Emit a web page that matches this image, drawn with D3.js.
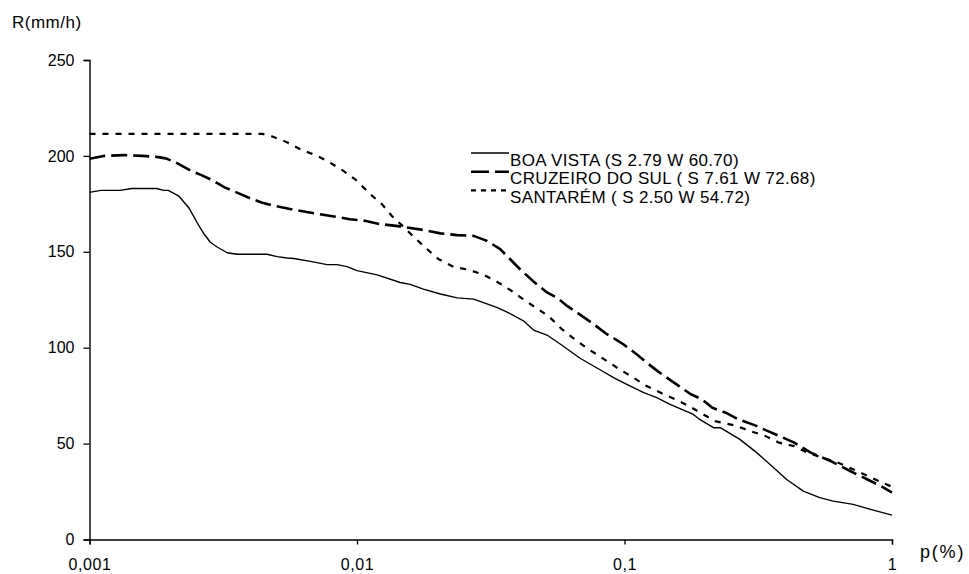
<!DOCTYPE html>
<html>
<head>
<meta charset="utf-8">
<script src="https://cdn.jsdelivr.net/npm/d3@7.9.0/dist/d3.min.js"></script>
<style>
  body { margin: 0; background: #fff; }
  svg text { font-family: Arial, "Liberation Sans", sans-serif; fill: #000; }
</style>
</head>
<body>
<svg id="chart" width="969" height="574"></svg>
<script>
// axis ticks
const xTicks = [0.001, 0.01, 0.1, 1];
const yTicks = [0, 50, 100, 150, 200, 250];

// legend names
const seriesNames = [
  'BOA VISTA (S 2.79 W 60.70)',
  'CRUZEIRO DO SUL ( S 7.61 W 72.68)',
  'SANTARÉM ( S 2.50 W 54.72)'
];

// Boa Vista - p(%) and R(mm/h)
const pBoa = [0.001, 0.0011, 0.0013, 0.00144, 0.00178, 0.0019, 0.00197, 0.00216, 0.00235, 0.00253,
  0.00269, 0.00283, 0.003, 0.00327, 0.00356, 0.00461, 0.00503, 0.00548, 0.0058, 0.0067,
  0.00773, 0.00842, 0.00918, 0.01, 0.0119, 0.0145, 0.0158, 0.0177, 0.0205, 0.0237,
  0.0273, 0.0297, 0.0333, 0.0364, 0.0419, 0.0457, 0.0513, 0.0582, 0.0682, 0.081,
  0.091, 0.102, 0.118, 0.132, 0.148, 0.181, 0.191, 0.215, 0.228, 0.27,
  0.312, 0.35, 0.404, 0.466, 0.537, 0.603, 0.716, 0.851, 1];
const rBoa = [181, 182, 182, 183, 183, 182, 182, 179, 173, 165,
  159, 155, 152.5, 149.5, 148.7, 148.7, 147.5, 146.8, 146.5, 145,
  143.3, 143.3, 142.3, 140.2, 138, 134, 133, 130.5, 128, 126,
  125.3, 123.5, 121, 118.6, 114, 109.2, 106.6, 101.4, 94.5, 88.5,
  84.4, 80.9, 76.6, 74, 70.5, 65.2, 62.6, 58.3, 58.3, 52.2,
  45.3, 39.1, 31.3, 25.2, 21.8, 20, 18.3, 15.3, 12.7];

// Cruzeiro do Sul
const pCruz = [0.001, 0.00113, 0.00134, 0.00158, 0.00178, 0.00193, 0.0021, 0.0024, 0.00262, 0.00286,
  0.0032, 0.0036, 0.004, 0.0044, 0.0049, 0.0058, 0.0069, 0.0082, 0.0094, 0.0108,
  0.0121, 0.014, 0.0177, 0.0205, 0.0237, 0.0273, 0.0306, 0.0343, 0.0407, 0.0457,
  0.0513, 0.056, 0.061, 0.068, 0.0763, 0.085, 0.099, 0.111, 0.121, 0.133,
  0.147, 0.16, 0.177, 0.195, 0.213, 0.239, 0.267, 0.308, 0.344, 0.38,
  0.431, 0.497, 0.59, 0.7, 0.81, 0.91, 1];
const rCruz = [198.5, 200, 200.4, 200, 199.5, 198.7, 196.6, 192.2, 190, 187.5,
  183.6, 180.6, 177.8, 175.7, 174, 171.9, 170.1, 168.4, 167, 166.1,
  164.5, 163.5, 161.4, 159.6, 158.7, 158.3, 155.7, 151.4, 140.9, 134.5,
  128.8, 126.1, 121.8, 117.4, 112.5, 107.5, 101.8, 96.6, 92.2, 87.8,
  83.5, 80, 75.7, 73.1, 68.7, 66.1, 62.6, 59.5, 56.5, 53.9,
  50.5, 45.3, 40.9, 35.6, 31.3, 27.8, 24.5];

// Santarem
const pSant = [0.001, 0.00443, 0.0048, 0.0055, 0.0062, 0.0071, 0.0079, 0.0089, 0.01, 0.0112,
  0.0124, 0.0135, 0.0148, 0.0163, 0.018, 0.0202, 0.023, 0.0262, 0.0294, 0.033,
  0.037, 0.0415, 0.0465, 0.052, 0.058, 0.064, 0.072, 0.08, 0.088, 0.0964,
  0.1079, 0.121, 0.136, 0.155, 0.174, 0.192, 0.218, 0.258, 0.296, 0.337,
  0.378, 0.43, 0.49, 0.565, 0.63, 0.727, 0.84, 0.92, 1];
const rSant = [211.5, 211.5, 210.2, 207, 203.2, 200, 196.6, 192.2, 187, 180.1,
  174.8, 168.7, 163.5, 157.8, 152.2, 146.1, 142.1, 140.6, 138.3, 134.8,
  130.5, 125.6, 120.9, 116.5, 110, 105.2, 99.9, 95.9, 92.1, 88.5,
  84.4, 80, 76.6, 73.1, 69.6, 66.1, 61.7, 59.5, 56.5, 53.9,
  50.5, 48.7, 44.9, 42.1, 40, 36.2, 32.2, 29.6, 27.5];

const series = [
  { name: seriesNames[0], p: pBoa, r: rBoa, width: 1.4, dash: null, legendDash: null },
  { name: seriesNames[1], p: pCruz, r: rCruz, width: 2.6, dash: '16,6', legendDash: '18,6' },
  { name: seriesNames[2], p: pSant, r: rSant, width: 2.2, dash: '6,7', legendDash: '5,5' }
];

const svg = d3.select('#chart');

const x = d3.scaleLog().domain([0.001, 1]).range([89.5, 892]);
const y = d3.scaleLinear().domain([0, 250]).range([539.5, 60]);

// y axis
const yAxis = svg.append('g')
  .attr('transform', 'translate(89.5,0)')
  .call(d3.axisLeft(y).tickValues(yTicks).tickSize(6).tickPadding(9).tickFormat(d3.format('d')));

// x axis - decimal comma labels
const fmtComma = (d) => String(d).replace('.', ',');
const xAxis = svg.append('g')
  .attr('transform', 'translate(0,539.5)')
  .call(d3.axisBottom(x).tickValues(xTicks).tickSize(5).tickPadding(14).tickFormat(fmtComma));

[yAxis, xAxis].forEach((g) => {
  g.select('.domain').attr('stroke', '#000').attr('stroke-width', 1.4);
  g.selectAll('.tick line').attr('stroke', '#000').attr('stroke-width', 1.3);
  g.selectAll('.tick text')
    .attr('font-size', 16)
    .attr('font-family', 'Arial, "Liberation Sans", sans-serif');
});
xAxis.selectAll('.tick text').attr('letter-spacing', 0.6);

// axis titles
svg.append('text').attr('x', 12).attr('y', 28).attr('font-size', 17)
  .attr('letter-spacing', 0.5).text('R(mm/h)');
svg.append('text').attr('x', 920).attr('y', 558).attr('font-size', 18)
  .attr('letter-spacing', 1.8).text('p(%)');

// lines
const line = d3.line()
  .x((d) => x(d[0]))
  .y((d) => y(d[1]));

series.forEach((s) => {
  const pts = s.p.map((p, i) => [p, s.r[i]]);
  svg.append('path')
    .datum(pts)
    .attr('d', line)
    .attr('fill', 'none')
    .attr('stroke', '#000')
    .attr('stroke-width', s.width)
    .attr('stroke-dasharray', s.dash)
    .attr('stroke-linejoin', 'round');
});

// legend
const legend = svg.append('g').attr('transform', 'translate(471,153)');
series.forEach((s, i) => {
  const row = legend.append('g').attr('transform', `translate(0,${i * 18.7})`);
  row.append('line')
    .attr('x1', 0).attr('x2', 38)
    .attr('y1', 0).attr('y2', 0)
    .attr('stroke', '#000')
    .attr('stroke-width', s.width)
    .attr('stroke-dasharray', s.legendDash);
  row.append('text')
    .attr('x', 39).attr('y', 12.5)
    .attr('font-size', 17)
    .attr('letter-spacing', 0.35)
    .text(s.name);
});
</script>
</body>
</html>
